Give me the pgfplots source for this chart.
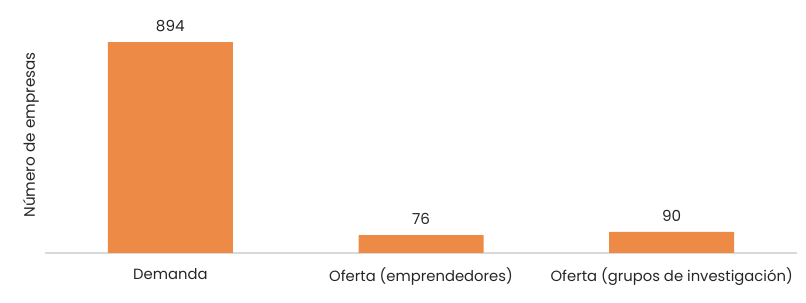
\documentclass[border=0pt]{standalone}
\usepackage{pgfplots}
\pgfplotsset{compat=1.18}
\usepackage{fontspec}
\setmainfont{Poppins}
\definecolor{barorange}{HTML}{ED8A46}
\definecolor{axisgray}{HTML}{D9D9D9}
\begin{document}
\begin{tikzpicture}
\path[use as bounding box] (-22.5pt,-25pt) rectangle (380.5pt,126.5pt);
\begin{axis}[
  scale only axis,
  width=376pt, height=118pt,
  at={(0,0)}, anchor=south west,
  xmin=-0.5, xmax=2.5, ymin=0, ymax=1000,
  axis x line*=bottom, axis y line*=left,
  x axis line style={axisgray, line width=0.8pt, -},
  y axis line style={draw=none},
  xtick=data,
  xticklabels={Demanda, Oferta (emprendedores), Oferta (grupos de investigación)},
  major tick length=0pt,
  ytick=\empty,
  /pgf/number format/assume math mode=true,
  xticklabel style={font=\fontsize{7.4}{8}\selectfont, text=black!85, yshift=-4pt},
  ybar, bar width=62.5pt,
  nodes near coords,
  every node near coord/.append style={font=\fontsize{7.6}{8}\selectfont, text=black!85, yshift=1.5pt},
  ylabel={Número de empresas},
  every axis y label/.style={at={(axis description cs:0,0.5)}, xshift=-7pt, rotate=90, anchor=center,
    font=\fontsize{7.6}{8}\selectfont, text=black!85},
  clip=false,
]
\addplot[fill=barorange, draw=none] coordinates {(0,894) (1,76) (2,90)};
\end{axis}
\end{tikzpicture}
\end{document}
